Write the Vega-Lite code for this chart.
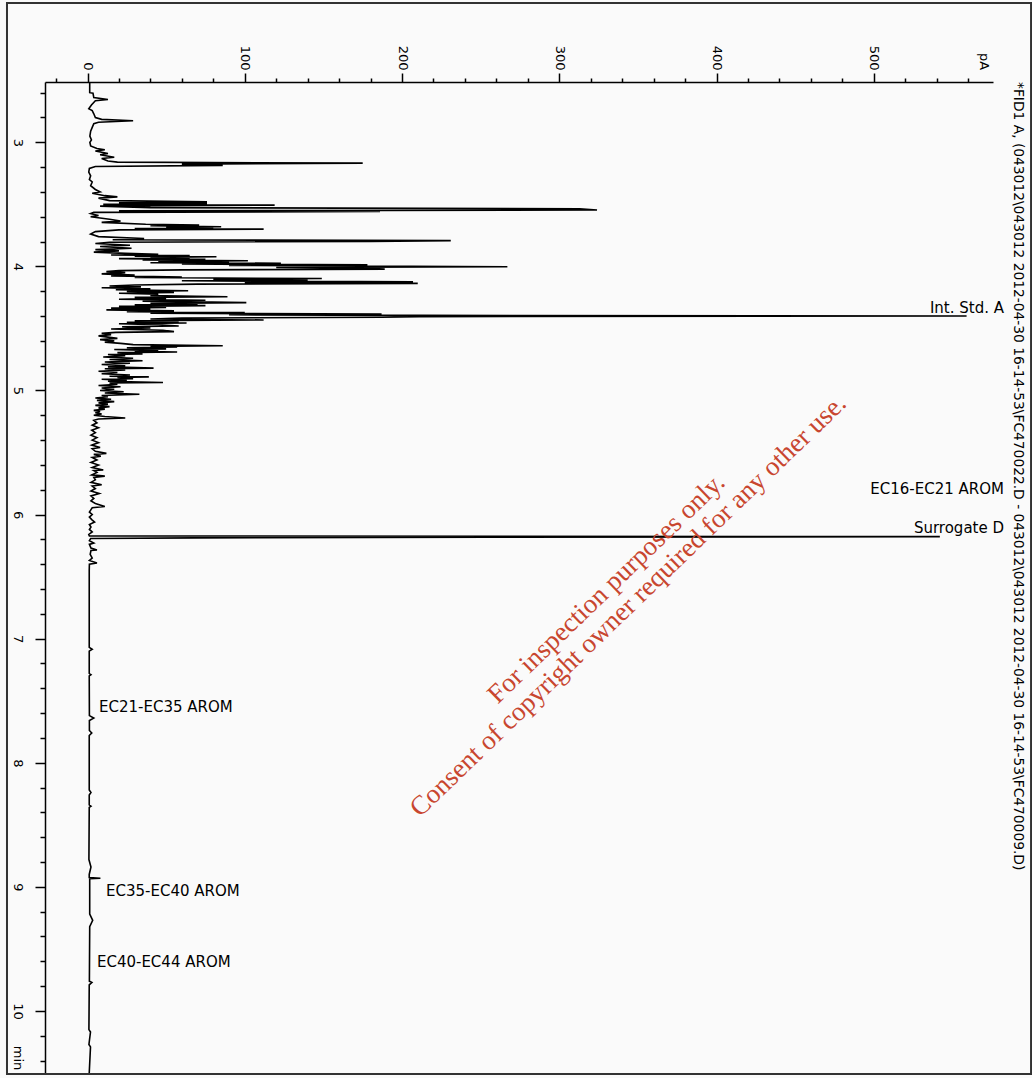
{
  "$schema": "https://vega.github.io/schema/vega-lite/v6.json",
  "width": 948,
  "height": 991,
  "autosize": {"type": "none"},
  "padding": {"left": 45, "top": 82, "right": 39, "bottom": 5},
  "background": "#fafafa",
  "config": {"view": {"stroke": null}, "font": "DejaVu Sans"},
  "title": {
    "text": "*FID1 A, (043012\\043012 2012-04-30 16-14-53\\FC470022.D - 043012\\043012 2012-04-30 16-14-53\\FC470009.D)",
    "orient": "right",
    "anchor": "start",
    "frame": "group",
    "angle": 90,
    "baseline": "bottom",
    "font": "DejaVu Sans",
    "fontSize": 13.8,
    "fontWeight": "normal",
    "color": "#000",
    "offset": -35
  },
  "resolve": {"axis": {"x": "independent", "y": "independent"}},
  "layer": [
    {
      "data": {"values": [{}]},
      "mark": {"type": "rect", "filled": false, "stroke": "#333", "strokeWidth": 2, "clip": false},
      "encoding": {
        "x": {"datum": -51.2, "type": "quantitative", "scale": {"domain": [-27.03, 575.8], "nice": false, "zero": false}, "axis": null},
        "x2": {"datum": 600},
        "y": {"datum": 1.8775, "type": "quantitative", "scale": {"domain": [2.514, 10.5], "reverse": true, "nice": false, "zero": false}, "axis": null},
        "y2": {"datum": 10.508}
      }
    },
    {
      "data": {"values": [
        {"t":2.514,"v":1.4},{"t":2.6,"v":1.4},{"t":2.605,"v":3.5},{"t":2.64,"v":4},{"t":2.655,"v":13},{"t":2.665,"v":5},{"t":2.7,"v":2.5},{"t":2.73,"v":0.8},{"t":2.745,"v":3},{"t":2.77,"v":4},{"t":2.8,"v":5},{"t":2.815,"v":9},{"t":2.826,"v":29},{"t":2.832,"v":18},{"t":2.838,"v":7},{"t":2.85,"v":4},{"t":2.88,"v":3},{"t":2.91,"v":2},{"t":2.95,"v":1.5},{"t":2.98,"v":2.5},{"t":3.0,"v":1.5},{"t":3.03,"v":2},{"t":3.05,"v":6},{"t":3.06,"v":11},{"t":3.07,"v":5},{"t":3.09,"v":13},{"t":3.1,"v":8},{"t":3.12,"v":17},{"t":3.13,"v":9},{"t":3.15,"v":13},{"t":3.16,"v":19},{"t":3.168,"v":175},{"t":3.176,"v":60},{"t":3.186,"v":86},{"t":3.195,"v":5},{"t":3.21,"v":1.2},{"t":3.24,"v":0.8},{"t":3.27,"v":2},{"t":3.3,"v":1.2},{"t":3.32,"v":3},{"t":3.35,"v":2},{"t":3.38,"v":5},{"t":3.4,"v":8},{"t":3.41,"v":3},{"t":3.43,"v":11},{"t":3.44,"v":19},{"t":3.45,"v":7},{"t":3.47,"v":14},{"t":3.48,"v":76},{"t":3.487,"v":20},{"t":3.494,"v":76},{"t":3.5,"v":10},{"t":3.506,"v":119},{"t":3.514,"v":8},{"t":3.526,"v":40},{"t":3.536,"v":313},{"t":3.546,"v":324},{"t":3.552,"v":20},{"t":3.558,"v":186},{"t":3.565,"v":4},{"t":3.575,"v":2},{"t":3.59,"v":7},{"t":3.6,"v":2},{"t":3.62,"v":14},{"t":3.635,"v":21},{"t":3.645,"v":9},{"t":3.66,"v":37},{"t":3.667,"v":71},{"t":3.673,"v":40},{"t":3.68,"v":85},{"t":3.685,"v":50},{"t":3.69,"v":80},{"t":3.695,"v":30},{"t":3.7,"v":112},{"t":3.706,"v":20},{"t":3.72,"v":5},{"t":3.74,"v":2},{"t":3.76,"v":7},{"t":3.775,"v":36},{"t":3.785,"v":16},{"t":3.792,"v":231},{"t":3.798,"v":180},{"t":3.805,"v":14},
        {"t":3.815,"v":5},{"t":3.83,"v":27},{"t":3.84,"v":8},{"t":3.854,"v":28},{"t":3.865,"v":5},{"t":3.875,"v":20},{"t":3.885,"v":4},{"t":3.895,"v":24},{"t":3.903,"v":45},{"t":3.908,"v":15},{"t":3.913,"v":65},{"t":3.917,"v":30},{"t":3.922,"v":82},{"t":3.927,"v":40},{"t":3.932,"v":65},{"t":3.937,"v":20},{"t":3.943,"v":75},{"t":3.948,"v":35},{"t":3.955,"v":102},{"t":3.96,"v":45},{"t":3.965,"v":90},{"t":3.97,"v":40},{"t":3.975,"v":123},{"t":3.981,"v":60},{"t":3.987,"v":178},{"t":3.992,"v":90},{"t":3.997,"v":175},{"t":4.003,"v":267},{"t":4.009,"v":120},{"t":4.016,"v":178},{"t":4.022,"v":189},{"t":4.028,"v":60},{"t":4.034,"v":20},{"t":4.042,"v":12},{"t":4.05,"v":24},{"t":4.06,"v":9},{"t":4.07,"v":30},{"t":4.076,"v":15},{"t":4.085,"v":60},{"t":4.09,"v":30},{"t":4.098,"v":149},{"t":4.104,"v":80},{"t":4.11,"v":140},{"t":4.116,"v":60},{"t":4.124,"v":207},{"t":4.13,"v":100},{"t":4.137,"v":210},{"t":4.143,"v":70},{"t":4.15,"v":30},{"t":4.158,"v":14},{"t":4.165,"v":34},{"t":4.172,"v":9},{"t":4.18,"v":40},{"t":4.188,"v":18},{"t":4.196,"v":64},{"t":4.202,"v":25},{"t":4.21,"v":55},{"t":4.216,"v":20},{"t":4.225,"v":45},{"t":4.235,"v":40},{"t":4.244,"v":89},{"t":4.25,"v":30},{"t":4.258,"v":50},{"t":4.265,"v":20},{"t":4.273,"v":75},{"t":4.28,"v":35},{"t":4.292,"v":101},{"t":4.298,"v":40},{"t":4.305,"v":70},{"t":4.31,"v":30},{"t":4.316,"v":75},{"t":4.322,"v":20},{"t":4.33,"v":50},{"t":4.336,"v":15},{"t":4.343,"v":40},{"t":4.35,"v":12},{"t":4.358,"v":55},{"t":4.365,"v":25},{"t":4.372,"v":100},{"t":4.378,"v":40},{"t":4.384,"v":187},{"t":4.39,"v":90},{"t":4.395,"v":211},{"t":4.4,"v":559},{"t":4.405,"v":211},{"t":4.41,"v":187},{"t":4.416,"v":60},{"t":4.424,"v":40},{"t":4.432,"v":112},{"t":4.438,"v":30},{"t":4.445,"v":58},{"t":4.45,"v":25},{"t":4.456,"v":63},{"t":4.462,"v":20},{"t":4.47,"v":45},{"t":4.48,"v":58},{"t":4.486,"v":22},{"t":4.495,"v":40},{"t":4.505,"v":15},{"t":4.515,"v":48},{"t":4.526,"v":55},{"t":4.532,"v":18},
        {"t":4.54,"v":9},{"t":4.55,"v":15},{"t":4.56,"v":7},{"t":4.57,"v":13},{"t":4.58,"v":19},{"t":4.59,"v":8},{"t":4.6,"v":17},{"t":4.61,"v":11},{"t":4.62,"v":21},{"t":4.63,"v":29},{"t":4.64,"v":86},{"t":4.645,"v":40},{"t":4.65,"v":57},{"t":4.655,"v":25},{"t":4.665,"v":50},{"t":4.67,"v":17},{"t":4.68,"v":45},{"t":4.685,"v":30},{"t":4.69,"v":57},{"t":4.695,"v":19},{"t":4.705,"v":35},{"t":4.71,"v":13},{"t":4.72,"v":24},{"t":4.73,"v":10},{"t":4.74,"v":29},{"t":4.75,"v":14},{"t":4.76,"v":35},{"t":4.77,"v":11},{"t":4.78,"v":27},{"t":4.79,"v":9},{"t":4.8,"v":24},{"t":4.81,"v":13},{"t":4.82,"v":42},{"t":4.825,"v":11},{"t":4.835,"v":24},{"t":4.845,"v":7},{"t":4.855,"v":19},{"t":4.865,"v":9},{"t":4.875,"v":27},{"t":4.885,"v":14},{"t":4.89,"v":39},{"t":4.895,"v":19},{"t":4.905,"v":29},{"t":4.91,"v":9},{"t":4.92,"v":25},{"t":4.925,"v":13},{"t":4.935,"v":48},{"t":4.94,"v":14},{"t":4.95,"v":19},{"t":4.96,"v":7},{"t":4.97,"v":21},{"t":4.98,"v":9},{"t":4.99,"v":17},{"t":5.0,"v":8},{"t":5.01,"v":23},{"t":5.02,"v":11},{"t":5.03,"v":33},{"t":5.04,"v":9},{"t":5.05,"v":13},{"t":5.06,"v":5},{"t":5.07,"v":15},{"t":5.08,"v":6},{"t":5.09,"v":17},{"t":5.1,"v":7},{"t":5.11,"v":13},{"t":5.12,"v":5},{"t":5.13,"v":14},{"t":5.14,"v":7},{"t":5.15,"v":11},{"t":5.16,"v":4},{"t":5.17,"v":8},{"t":5.18,"v":5},{"t":5.19,"v":9},{"t":5.2,"v":4},{"t":5.21,"v":11},{"t":5.222,"v":24},{"t":5.23,"v":7},{"t":5.24,"v":4},
        {"t":5.26,"v":6},{"t":5.28,"v":3},{"t":5.3,"v":7},{"t":5.32,"v":2.7},{"t":5.34,"v":5},{"t":5.36,"v":2.2},{"t":5.38,"v":6},{"t":5.4,"v":3},{"t":5.42,"v":7},{"t":5.44,"v":2.7},{"t":5.46,"v":8},{"t":5.47,"v":3},{"t":5.49,"v":5},{"t":5.507,"v":12},{"t":5.515,"v":4},{"t":5.53,"v":8.5},{"t":5.54,"v":3},{"t":5.56,"v":6},{"t":5.58,"v":2.2},{"t":5.6,"v":7},{"t":5.62,"v":3},{"t":5.64,"v":10},{"t":5.645,"v":4},{"t":5.66,"v":6},{"t":5.68,"v":2.7},{"t":5.69,"v":11},{"t":5.7,"v":4},{"t":5.72,"v":5},{"t":5.74,"v":2.2},{"t":5.76,"v":9},{"t":5.77,"v":3},{"t":5.79,"v":5},{"t":5.81,"v":2.2},{"t":5.83,"v":7.5},{"t":5.85,"v":2.2},{"t":5.87,"v":4},{"t":5.89,"v":2.2},{"t":5.91,"v":5},{"t":5.935,"v":11},{"t":5.945,"v":3},{"t":5.96,"v":2.2},{"t":5.98,"v":1.2},{"t":6.0,"v":3},{"t":6.02,"v":1.2},{"t":6.04,"v":2.7},{"t":6.06,"v":4.5},{"t":6.08,"v":1.2},{"t":6.1,"v":2.2},{"t":6.12,"v":1.2},{"t":6.14,"v":3},{"t":6.16,"v":0.8},{"t":6.172,"v":1.2},{"t":6.178,"v":542},{"t":6.183,"v":255},{"t":6.188,"v":68},{"t":6.193,"v":2},{"t":6.21,"v":1.2},{"t":6.23,"v":4},{"t":6.24,"v":1.2},{"t":6.27,"v":2.2},{"t":6.285,"v":6},{"t":6.29,"v":2.2},{"t":6.32,"v":1.7},{"t":6.35,"v":3},{"t":6.37,"v":1.2},{"t":6.39,"v":6},{"t":6.4,"v":1.2},{"t":6.45,"v":1.1},
        {"t":6.8,"v":1.1},{"t":7.07,"v":1.1},{"t":7.085,"v":3},{"t":7.1,"v":1.1},{"t":7.28,"v":1.1},{"t":7.29,"v":2.2},{"t":7.3,"v":1.1},{"t":7.62,"v":1.2},{"t":7.64,"v":4},{"t":7.66,"v":1.2},{"t":7.74,"v":1.2},{"t":7.76,"v":2.7},{"t":7.78,"v":1.1},{"t":8.22,"v":1.1},{"t":8.24,"v":2.2},{"t":8.26,"v":1.1},{"t":8.34,"v":1.1},{"t":8.35,"v":2.2},{"t":8.36,"v":1.1},{"t":8.78,"v":0.9},{"t":8.84,"v":2.2},{"t":8.9,"v":1.1},{"t":8.925,"v":1.1},{"t":8.93,"v":8.2},{"t":8.935,"v":1.4},{"t":9.22,"v":1.4},{"t":9.27,"v":3.3},{"t":9.32,"v":1.4},{"t":9.76,"v":1.2},{"t":9.77,"v":2.8},{"t":9.79,"v":1.1},{"t":10.15,"v":0.9},{"t":10.17,"v":1.9},{"t":10.27,"v":0.9},{"t":10.29,"v":1.9},{"t":10.5,"v":1.1}
      ]},
      "mark": {"type": "line", "color": "#000", "strokeWidth": 1.6, "clip": true},
      "encoding": {
        "x": {
          "field": "v", "type": "quantitative",
          "scale": {"domain": [-27.03, 575.8], "nice": false, "zero": false},
          "axis": {
            "orient": "top", "title": "pA", "grid": false,
            "values": [0,100,200,300,400,500],
            "labelAngle": 90, "labelAlign": "right", "labelBaseline": "middle", "labelPadding": 3,
            "labelFont": "DejaVu Sans", "labelFontSize": 13, "labelColor": "#000",
            "labelOverlap": false, "labelFlush": false, "labelBound": false,
            "tickSize": 9, "tickColor": "#000", "tickWidth": 1.5, "domainColor": "#000", "domainWidth": 1.5,
            "titleAngle": 90, "titleX": 938.5, "titleY": -21, "titleAlign": "center", "titleBaseline": "middle",
            "titleFont": "DejaVu Sans", "titleFontSize": 13, "titleFontWeight": "normal", "titleColor": "#000"
          }
        },
        "y": {
          "field": "t", "type": "quantitative",
          "scale": {"domain": [2.514, 10.5], "reverse": true, "nice": false, "zero": false},
          "axis": {
            "orient": "left", "title": "min", "grid": false,
            "values": [3,4,5,6,7,8,9,10],
            "format": "d",
            "labelAngle": 90, "labelAlign": "center", "labelBaseline": "top", "labelPadding": 12,
            "labelFont": "DejaVu Sans", "labelFontSize": 13, "labelColor": "#000",
            "labelOverlap": false, "labelFlush": false, "labelBound": false,
            "tickSize": 10, "tickColor": "#000", "tickWidth": 1.5, "domainColor": "#000", "domainWidth": 1.5,
            "titleAngle": 90, "titleX": -27.5, "titleY": 975.5, "titleAlign": "center", "titleBaseline": "middle",
            "titleFont": "DejaVu Sans", "titleFontSize": 13, "titleFontWeight": "normal", "titleColor": "#000"
          }
        },
        "order": {"field": "t", "type": "quantitative"}
      }
    },
    {
      "data": {"values": [
        {"label": "Int. Std. A", "v": 582.8, "t": 4.3755},
        {"label": "EC16-EC21 AROM", "v": 582.8, "t": 5.834},
        {"label": "Surrogate D", "v": 582.8, "t": 6.148}
      ]},
      "mark": {"type": "text", "align": "right", "baseline": "alphabetic", "font": "DejaVu Sans", "fontSize": 15, "color": "#000"},
      "encoding": {
        "x": {
          "field": "v", "type": "quantitative", "scale": {"domain": [-27.03, 575.8], "nice": false, "zero": false},
          "axis": {
            "orient": "top", "title": null, "grid": false, "labels": false, "domain": false,
            "values": [-20,20,40,60,80,120,140,160,180,220,240,260,280,320,340,360,380,420,440,460,480,520,540,560],
            "tickSize": 4, "tickColor": "#000", "tickWidth": 1.5
          }
        },
        "y": {
          "field": "t", "type": "quantitative", "scale": {"domain": [2.514, 10.5], "reverse": true, "nice": false, "zero": false},
          "axis": {
            "orient": "left", "title": null, "grid": false, "labels": false, "domain": false,
            "values": [2.6,2.8,3.2,3.4,3.6,3.8,4.2,4.4,4.6,4.8,5.2,5.4,5.6,5.8,6.2,6.4,6.6,6.8,7.2,7.4,7.6,7.8,8.2,8.4,8.6,8.8,9.2,9.4,9.6,9.8,10.2,10.4],
            "tickSize": 5, "tickColor": "#000", "tickWidth": 1.5
          }
        },
        "text": {"field": "label"}
      }
    },
    {
      "data": {"values": [
        {"label": "EC21-EC35 AROM", "v": 7.3, "t": 7.593},
        {"label": "EC35-EC40 AROM", "v": 11.8, "t": 9.071},
        {"label": "EC40-EC44 AROM", "v": 6.0, "t": 9.643}
      ]},
      "mark": {"type": "text", "align": "left", "baseline": "alphabetic", "font": "DejaVu Sans", "fontSize": 15, "color": "#000"},
      "encoding": {
        "x": {"field": "v", "type": "quantitative", "scale": {"domain": [-27.03, 575.8], "nice": false, "zero": false}, "axis": null},
        "y": {"field": "t", "type": "quantitative", "scale": {"domain": [2.514, 10.5], "reverse": true, "nice": false, "zero": false}, "axis": null},
        "text": {"field": "label"}
      }
    },
    {
      "data": {"values": [
        {"label": "For inspection purposes only.", "v": 330.0, "t": 6.596},
        {"label": "Consent of copyright owner required for any other use.", "v": 343.9, "t": 6.735}
      ]},
      "mark": {"type": "text", "align": "center", "baseline": "middle", "angle": -44, "font": "Liberation Serif", "fontSize": 27, "color": "#c8462f"},
      "encoding": {
        "x": {"field": "v", "type": "quantitative", "scale": {"domain": [-27.03, 575.8], "nice": false, "zero": false}, "axis": null},
        "y": {"field": "t", "type": "quantitative", "scale": {"domain": [2.514, 10.5], "reverse": true, "nice": false, "zero": false}, "axis": null},
        "text": {"field": "label"}
      }
    }
  ]
}
